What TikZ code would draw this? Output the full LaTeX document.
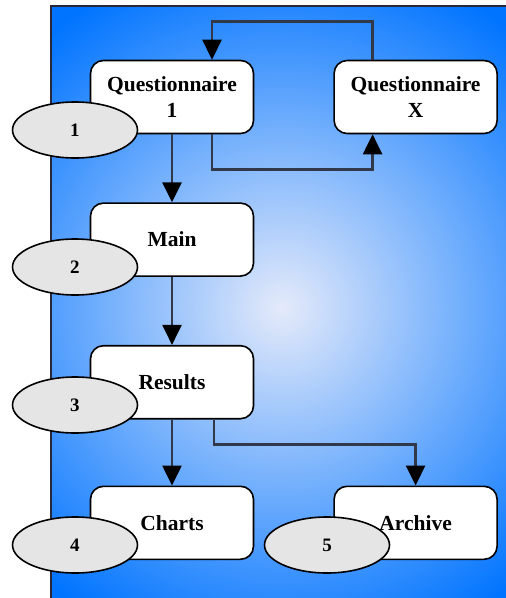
\documentclass[tikz,border=0pt]{standalone}
\usepackage{fontspec}
\setmainfont{Liberation Serif}
\usetikzlibrary{arrows.meta,shapes.geometric,positioning}
\definecolor{bgblue}{RGB}{0,116,255}
\definecolor{bgglow}{RGB}{228,234,250}
\definecolor{linkgray}{RGB}{48,56,74}
\definecolor{framegray}{RGB}{40,40,56}

\begin{document}
\begin{tikzpicture}[x=1pt,y=-1pt,
    box/.style={draw=black,line width=1.6pt,fill=white,rounded corners=13pt,
      minimum width=163pt,minimum height=73pt,inner sep=0pt,align=center,
      font=\fontsize{21.5}{26}\selectfont\bfseries},
    tag/.style={ellipse,draw=black,line width=1.6pt,fill=gray!20,
      minimum width=125pt,minimum height=56pt,inner sep=0pt,
      font=\fontsize{19}{22}\selectfont\bfseries},
    link/.style={draw=linkgray,line width=2.6pt,
      -{Triangle[width=19pt,length=20pt,color=black]}}]
  \useasboundingbox (0,0) rectangle (506,598);
  % background
  \fill[bgblue] (51,6) rectangle (506,598);
  \begin{scope}
    \clip (51,6) rectangle (506,598);
    \shade[inner color=bgglow,outer color=bgblue] (282,308) circle (360);
  \end{scope}
  \draw[framegray,line width=2pt] (51,598) -- (51,6) -- (506,6);

  \node[box] (q1) at (172,97) {Questionnaire\\1};
  \node[box,right = 79pt of q1] (qx) {Questionnaire\\X};
  \node[box,below = 68pt of q1] (main) {Main};
  \node[box,below = 68pt of main] (results) {Results};
  \node[box,below = 66pt of results] (charts) {Charts};
  \node[box,right = 79pt of charts] (archive) {Archive};

  \draw[link] (q1) -- (main);
  \draw[link] ([xshift=40pt]q1.south) -- ++(0,35) -| ([xshift=-43pt]qx.south);
  \draw[link] ([xshift=-43pt]qx.north) -- ++(0,-38) -| ([xshift=40pt]q1.north);
  \draw[link] (main) -- (results);
  \draw[link] (results) -- (charts);
  \draw[link] ([xshift=42pt]results.south) -- ++(0,25) -| (archive.north);

  \node[tag] (n1) at (75,130) {1};
  \node[tag] (n2) at (75,267) {2};
  \node[tag] (n3) at (75,405) {3};
  \node[tag] (n4) at (75,545) {4};
  \node[tag] (n5) at (327,545) {5};
\end{tikzpicture}
\end{document}
